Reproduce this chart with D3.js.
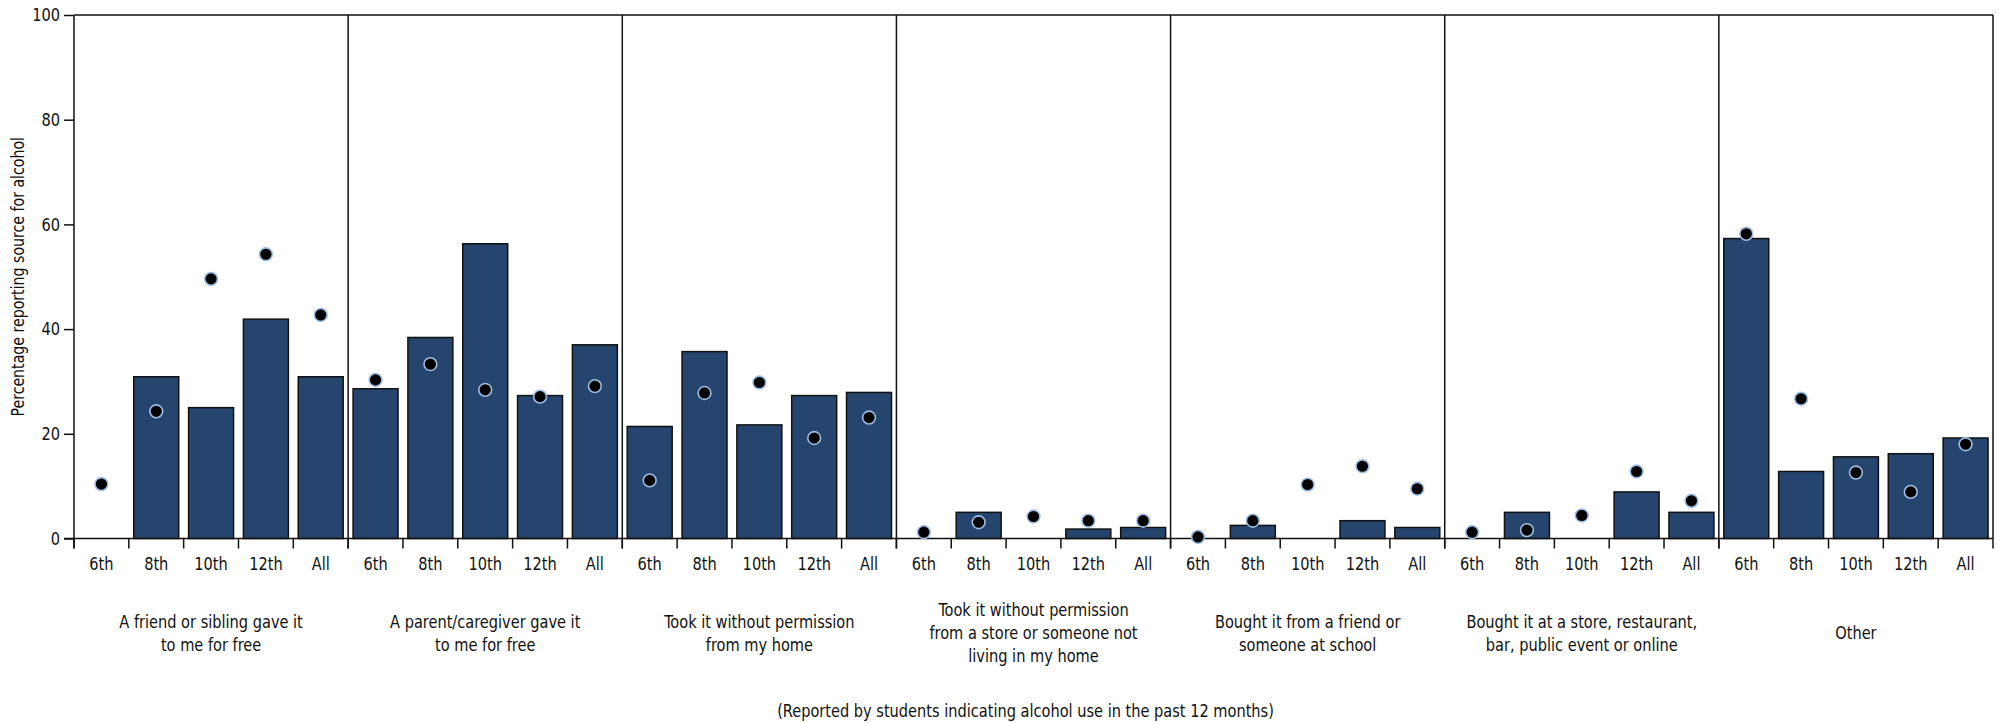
<!DOCTYPE html>
<html>
<head>
<meta charset="utf-8">
<script src="https://cdn.jsdelivr.net/npm/d3@7"></script>
<style>
  html, body { margin: 0; padding: 0; background: #fff; }
  svg text { font-family: "DejaVu Sans Condensed", "Liberation Sans Narrow", "Roboto", sans-serif; fill: #111; }
</style>
</head>
<body>
<svg id="chart" width="1999" height="723"></svg>
<script>
// ---- data ----
const panels = [
  "A friend or sibling gave it|to me for free",
  "A parent/caregiver gave it|to me for free",
  "Took it without permission|from my home",
  "Took it without permission|from a store or someone not|living in my home",
  "Bought it from a friend or|someone at school",
  "Bought it at a store, restaurant,|bar, public event or online",
  "Other"
];
const grades = ["6th", "8th", "10th", "12th", "All"];
// bar values per panel (grade order 6th, 8th, 10th, 12th, All)
const barFriend    = [0, 30.9, 25.0, 41.9, 30.9];
const barParent    = [28.6, 38.4, 56.3, 27.3, 37.0];
const barHome      = [21.4, 35.7, 21.7, 27.3, 27.9];
const barStore     = [0, 5.0, 0, 1.8, 2.1];
const barBoughtFr  = [0, 2.5, 0, 3.4, 2.1];
const barBoughtSt  = [0, 5.0, 0, 8.9, 5.0];
const barOther     = [57.3, 12.8, 15.6, 16.2, 19.2];
// dot values per panel
const dotFriend    = [10.4, 24.3, 49.6, 54.3, 42.7];
const dotParent    = [30.3, 33.3, 28.4, 27.1, 29.1];
const dotHome      = [11.1, 27.8, 29.8, 19.2, 23.1];
const dotStore     = [1.2, 3.1, 4.2, 3.4, 3.4];
const dotBoughtFr  = [0.3, 3.4, 10.3, 13.8, 9.5];
const dotBoughtSt  = [1.2, 1.6, 4.4, 12.8, 7.2];
const dotOther     = [58.2, 26.7, 12.6, 8.9, 18.0];
const yTicks = [0, 20, 40, 60, 80, 100];
const yTitle = "Percentage reporting source for alcohol";
const caption = "(Reported by students indicating alcohol use in the past 12 months)";

const barSets = [barFriend, barParent, barHome, barStore, barBoughtFr, barBoughtSt, barOther];
const dotSets = [dotFriend, dotParent, dotHome, dotStore, dotBoughtFr, dotBoughtSt, dotOther];

const rows = [];
panels.forEach((p, pi) => grades.forEach((g, gi) => rows.push({
  key: pi + "-" + g, panel: pi, grade: g, bar: barSets[pi][gi], dot: dotSets[pi][gi]
})));

// ---- layout ----
const L = 74, R = 1993, T = 15, B = 538.5;
const svg = d3.select("#chart");
const x = d3.scaleBand().domain(rows.map(d => d.key)).range([L, R]).paddingInner(0.18).paddingOuter(0.09);
const step = x.step();
const pad = step * 0.09;
const y = d3.scaleLinear().domain([0, 100]).range([B, T]);
const fs = 18, SX = 0.9;

function label(g, tx, ty, str, size, anchor) {
  return g.append("text")
    .attr("transform", `translate(${tx},${ty}) scale(${SX},1)`)
    .attr("text-anchor", anchor || "middle").attr("dy", "0.35em")
    .attr("font-size", size || fs).text(str);
}

// frame top & right
svg.append("line").attr("x1", L).attr("x2", R).attr("y1", T).attr("y2", T).attr("stroke", "#111").attr("stroke-width", 1.5);
svg.append("line").attr("x1", R).attr("x2", R).attr("y1", T).attr("y2", B).attr("stroke", "#111").attr("stroke-width", 1.5);

// panel separators
d3.range(1, panels.length).forEach(i => {
  const px = x(i + "-6th") - pad;
  svg.append("line").attr("x1", px).attr("x2", px).attr("y1", T).attr("y2", B + 10).attr("stroke", "#111").attr("stroke-width", 1.5);
});

// bars
svg.append("g").selectAll("rect").data(rows.filter(d => d.bar > 0)).join("rect")
  .attr("x", d => x(d.key)).attr("width", x.bandwidth())
  .attr("y", d => y(d.bar)).attr("height", d => y(0) - y(d.bar))
  .attr("fill", "#26456e").attr("stroke", "#111").attr("stroke-width", 1.5);

// x axis line + ticks at band boundaries
svg.append("line").attr("x1", L - 10).attr("x2", R).attr("y1", B).attr("y2", B).attr("stroke", "#111").attr("stroke-width", 1.5);
const bounds = rows.map(d => x(d.key) - pad).concat([R]);
svg.append("g").selectAll("line").data(bounds).join("line")
  .attr("x1", d => d).attr("x2", d => d).attr("y1", B).attr("y2", B + 10)
  .attr("stroke", "#111").attr("stroke-width", 1.5);

// grade tick labels
const gl = svg.append("g");
rows.forEach(d => label(gl, x(d.key) + x.bandwidth() / 2, B + 25, d.grade));

// y axis
const yAxis = d3.axisLeft(y).tickValues(yTicks).tickSize(10).tickPadding(4);
const yg = svg.append("g").attr("transform", `translate(${L},0)`).call(yAxis);
yg.selectAll("path, line").attr("stroke", "#111").attr("stroke-width", 1.5);
yg.select("path").remove();
yg.selectAll("text").attr("font-size", fs).attr("fill", "#111")
  .attr("x", -14 / SX).attr("transform", `scale(${SX},1)`);
svg.append("line").attr("x1", L).attr("x2", L).attr("y1", T).attr("y2", B + 10).attr("stroke", "#111").attr("stroke-width", 1.5);

// dots
svg.append("g").selectAll("circle").data(rows).join("circle")
  .attr("cx", d => x(d.key) + x.bandwidth() / 2).attr("cy", d => y(d.dot))
  .attr("r", 6.4).attr("fill", "#000").attr("stroke", "#9dbde3").attr("stroke-width", 1.6);

// panel labels
const pl = svg.append("g");
panels.forEach((p, i) => {
  const lines = p.split("|");
  const cx = (x(i + "-6th") - pad + x(i + "-All") + x.bandwidth() + pad) / 2;
  const lh = 23;
  const y0 = 633 - (lines.length - 1) * lh / 2;
  lines.forEach((ln, j) => label(pl, cx, y0 + j * lh, ln));
});

// y title
svg.append("text").attr("transform", `translate(18,${(T + B) / 2}) rotate(-90) scale(${SX},1)`)
  .attr("text-anchor", "middle").attr("dy", "0.35em").attr("font-size", 17.5).text(yTitle);

// caption
label(svg, (L + R) / 2 - 8, 711, caption);
</script>
</body>
</html>
